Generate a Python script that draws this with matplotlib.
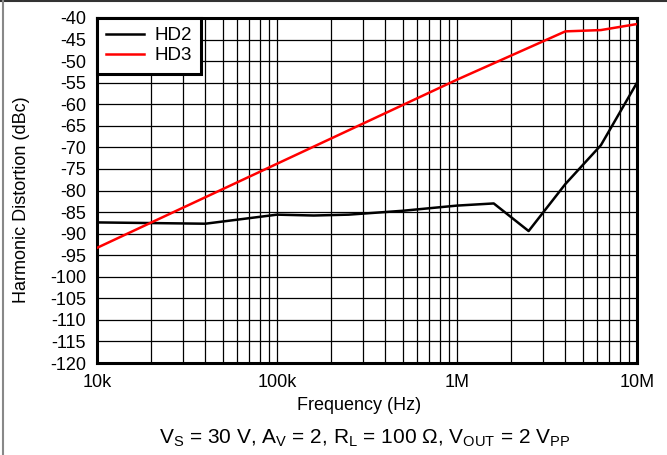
import matplotlib.pyplot as plt
import numpy as np
from matplotlib.lines import Line2D

plt.rcParams['font.family'] = ['Liberation Sans', 'DejaVu Sans']
plt.rcParams['mathtext.fontset'] = 'custom'
plt.rcParams['mathtext.rm'] = 'Liberation Sans'
plt.rcParams['mathtext.it'] = 'Liberation Sans'

# values
hd2_freq = [10e3, 40e3, 100e3, 160e3, 250e3, 500e3, 1e6, 1.6e6, 2.5e6, 4e6, 6.3e6, 10e6]
hd2_dbc = [-87.4, -87.7, -85.6, -85.8, -85.6, -84.7, -83.5, -83.0, -89.4, -78.5, -69.5, -55.0]
hd3_freq = [10e3, 100e3, 1e6, 4e6, 6.3e6, 10e6]
hd3_dbc = [-93.3, -73.8, -54.3, -43.1, -42.8, -41.4]

yticks = np.arange(-120, -39, 5)
xticks = [1e4, 1e5, 1e6, 1e7]
xticklabels = ["10k", "100k", "1M", "10M"]

fig = plt.figure(figsize=(6.67, 4.55), dpi=100)
ax = fig.add_axes([97 / 667, 1 - 363 / 455, 540 / 667, 345 / 455])

ax.semilogx(hd2_freq, hd2_dbc, color="black", lw=1.8, label="HD2", zorder=3)
ax.semilogx(hd3_freq, hd3_dbc, color="red", lw=1.8, label="HD3", zorder=3)

ax.set_xlim(1e4, 1e7)
ax.set_ylim(-120, -40)
ax.set_xticks(xticks)
ax.set_xticklabels(xticklabels)
ax.set_yticks(yticks)
ax.set_yticklabels([str(v) for v in yticks])
ax.tick_params(axis="both", which="both", length=0, labelsize=13)
ax.tick_params(axis="y", pad=8)
ax.tick_params(axis="x", pad=8)
ax.grid(True, which="both", color="black", lw=0.9)
for s in ax.spines.values():
    s.set_linewidth(2.2)

ax.set_xlabel("Frequency (Hz)", fontsize=13, va="center")
ax.xaxis.set_label_coords(0.5 - 8 / 540, (363 - 405) / 345)
ax.set_ylabel("Harmonic Distortion (dBc)", fontsize=13, va="center")
ax.yaxis.set_label_coords((22 - 97) / 540, 0.5 - 9 / 345)

leg = ax.legend(loc="upper left", fontsize=13.5, frameon=True, fancybox=False,
                borderaxespad=0, handlelength=2.0, handletextpad=0.55,
                borderpad=0.5, labelspacing=0.15)
leg.get_frame().set_edgecolor("black")
leg.get_frame().set_linewidth(2.2)
leg.get_frame().set_alpha(1)

fig.text(0.5 + 31 / 667, 1 - 438 / 455,
         r"V$_\mathrm{S}$ = 30 V, A$_\mathrm{V}$ = 2, R$_\mathrm{L}$ = 100 Ω, "
         r"V$_\mathrm{OUT}$ = 2 V$_\mathrm{PP}$",
         ha="center", va="center", fontsize=15)

# outer frame lines of the picture
fig.add_artist(Line2D([0, 1], [1 - 0.5 / 455, 1 - 0.5 / 455], color="#333333", lw=1.5,
                      transform=fig.transFigure))
fig.add_artist(Line2D([2.5 / 667, 2.5 / 667], [0, 1], color="#888888", lw=1.5,
                      transform=fig.transFigure))

fig.savefig("out.png", dpi=100)
